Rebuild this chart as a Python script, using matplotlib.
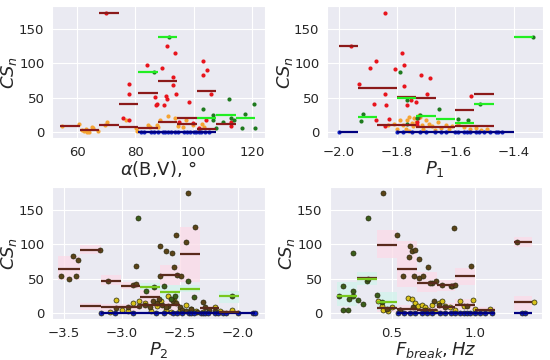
import matplotlib
matplotlib.use("Agg")
import matplotlib.pyplot as plt
import seaborn as sns
import numpy as np

sns.set_style("darkgrid")
plt.rcParams['font.family'] = ['DejaVu Sans']

# ---------------- Panel 1: alpha(B,V) ----------------
a_red_x = [70, 75.7, 77.7, 78.0, 78.0, 83.9, 86.8, 87.6, 87.0, 89.3, 89.8, 90.5, 90.8, 91.0,
           93.0, 93.0, 93.6, 93.9, 95.0, 98.4, 99.9, 101.8, 103.3, 104.7, 103.3, 105.9, 104.3,
           112.9, 113.0]
a_red_y = [173, 21, 69, 55, 17, 97.6, 51, 41, 39, 93, 39, 52, 47.6, 125,
           67.6, 79, 114, 55, 15, 43, 13, 6, 103, 90.5, 83, 55, 17,
           15, 8]
a_orange_x = [54.7, 60.8, 61.8, 63.0, 64.1, 65.0, 65.6, 63.3, 67.1, 69.6, 70.4, 76.8, 80.2,
              80.7, 85.0, 87.3, 88.5, 87.9, 91.3, 93.6, 97.3, 96.5, 102.8, 103.4, 102.0, 99.9,
              94.7, 84.4, 62.4]
a_orange_y = [9, 11.4, 3, 4.6, 0.5, 7.6, 5.7, 0, 1, 10, 14, 18, 5.7,
              2, 7.6, 10, 17, 7.6, 23.8, 20, 18, 7.6, 12, 7.6, 4.5, 10,
              9, 10, 1]
a_green_x = [91.7, 86.4, 103.3, 106.5, 106.8, 107.7, 112.2, 110.0, 112.9, 113.7, 116.5,
             117.6, 120.7, 121.2]
a_green_y = [138, 87, 33, 25, 17, 5.7, 47.6, 14, 20, 18, 5.7, 26, 40, 5.7]
a_blue_x = [81.8, 83.1, 85.4, 86.5, 87.9, 89.5, 90.2, 91.1, 92.2, 93.5, 94.5, 96.7, 97.9,
            98.8, 100.0, 100.9, 101.8, 102.7, 103.9, 105.2]
a_blue_y = [0] * 20
a_dr_lo = [67.6, 74.3, 81.0, 87.7, 94.4, 101.1, 107.8, 54.2, 60.9, 67.6, 74.3, 81.0, 87.7, 94.4, 101.1]
a_dr_hi = [74.3, 81.0, 87.7, 94.4, 101.1, 107.8, 114.5, 60.9, 67.6, 74.3, 81.0, 87.7, 94.4, 101.1, 107.8]
a_dr_mean = [173, 41, 57, 74, 21, 60, 12, 9, 3.5, 10, 7.5, 6, 15, 11, 5]
a_lime_lo = [81.0, 87.7, 101.1, 107.8, 114.5]
a_lime_hi = [87.7, 94.4, 107.8, 114.5, 121.2]
a_lime_mean = [87, 138, 20, 24, 20]
a_navy_lo = [81.0, 87.7, 94.4, 101.1]
a_navy_hi = [87.7, 94.4, 101.1, 107.8]
a_navy_mean = [0, 0, 0, 0]

# ---------------- Panel 2: P1 ----------------
p1_red_x = [-1.842, -1.781, -1.775, -1.808, -1.872, -1.891, -1.929, -1.718, -1.688, -1.777,
            -1.840, -1.697, -1.877, -1.838, -1.766, -1.752, -1.735, -1.826, -1.872, -1.842,
            -1.546, -1.731, -1.731, -1.729, -1.957]
p1_red_y = [173, 114, 97.6, 91, 103, 92.4, 69, 83, 78.6, 67,
            55, 55, 41, 39, 39, 47, 43, 19, 17, 8,
            52.3, 10, 15, 21, 124.8]
p1_orange_x = [-1.83, -1.81, -1.80, -1.79, -1.78, -1.77, -1.765, -1.76, -1.75, -1.745, -1.74,
               -1.735, -1.725, -1.72, -1.715, -1.71, -1.70, -1.69, -1.68, -1.67, -1.66, -1.65,
               -1.63, -1.62, -1.61, -1.59, -1.57, -1.55, -1.53, -1.51, -1.49, -1.76]
p1_orange_y = [10, 12, 5, 17, 10, 5, 18, 22, 13, 8, 20,
               14, 25, 22, 10, 5, 17, 12, 8, 3, 14, 6,
               10, 4, 9, 12, 7, 4, 6, 3, 5, 1]
p1_green_x = [-1.788, -1.916, -1.923, -1.766, -1.766, -1.657, -1.589, -1.556, -1.514, -1.334,
              -1.73, -1.72]
p1_green_y = [87.6, 26.7, 16, 47, 12, 33, 19, 17, 40.5, 138, 20, 25]
p1_blue_x = [-2.0, -1.80, -1.78, -1.75, -1.72, -1.70, -1.67, -1.65, -1.63, -1.60, -1.59,
             -1.57, -1.56, -1.55, -1.53, -1.52, -1.50, -1.48, -1.46, -1.452, -1.44]
p1_blue_y = [0] * 21
p1_dr_lo = [-2.0, -1.934, -1.8, -1.734, -1.6, -1.534, -1.867, -1.8, -1.734, -1.6]
p1_dr_hi = [-1.934, -1.8, -1.734, -1.667, -1.534, -1.467, -1.8, -1.734, -1.6, -1.467]
p1_dr_mean = [124.8, 64.3, 50.5, 48.6, 31.4, 55.2, 10.5, 9.5, 6.7, 8]
p1_lime_lo = [-1.934, -1.8, -1.734, -1.667, -1.6, -1.534, -1.4]
p1_lime_hi = [-1.867, -1.734, -1.667, -1.6, -1.534, -1.467, -1.334]
p1_lime_mean = [21.9, 49, 22.8, 19, 12.4, 40.5, 138]
p1_navy_lo = [-2.0, -1.8]
p1_navy_hi = [-1.934, -1.4]
p1_navy_mean = [0, 0]

# ---------------- Panel 3: P2 ----------------
p2_brown_x = [-3.52, -3.45, -3.39, -3.42, -3.38, -3.19, -3.12, -2.88, -2.90, -2.88, -2.67,
              -2.62, -2.57, -2.53, -2.45, -2.37, -2.43, -2.55, -2.67, -2.52, -2.49,
              -2.73, -2.70, -2.68, -2.65, -2.60, -2.56, -2.53, -2.50, -2.48, -2.45, -2.40,
              -2.35, -2.30, -2.28, -2.25, -2.20, -3.05, -2.95, -2.85, -2.80, -2.76, -2.62]
p2_brown_y = [54, 50, 54, 82, 77, 92, 47, 68, 40, 42, 97,
              90, 87, 113, 103, 124, 174, 67, 54, 55, 53,
              18, 15, 20, 12, 10, 17, 14, 8, 5, 3, 6,
              2, 16, 8, 5, 3, 7, 9, 10, 12, 8, 9]
p2_green_x = [-2.86, -2.79, -2.72, -2.64, -2.43, -2.54, -2.38, -2.58, -2.05]
p2_green_y = [138, 32, 38, 39, 46, 25, 23, 20, 25]
p2_yellow_x = [-3.05, -2.95, -2.90, -2.85, -2.80, -2.75, -2.70, -2.66, -2.60, -2.58, -2.55,
               -2.50, -2.45, -2.40, -2.36, -2.30, -2.20, -2.15, -2.05, -3.10, -3.00, -2.62]
p2_yellow_y = [19, 3, 14, 17, 15, 3, 10, 18, 24, 2, 19,
               4, 12, 6, 3, 2, 9, 3, 4, 2, 5, 5]
p2_blue_x = [-3.18, -3.056, -2.899, -2.704, -2.635, -2.56, -2.524, -2.48, -2.425, -2.40, -2.38,
             -2.32, -2.30, -2.28, -2.26, -2.20, -2.17, -2.13, -2.10, -1.995, -1.87, -1.853]
p2_blue_y = [0] * 22
p2_br_lo = [-3.55, -3.36, -3.18, -3.01, -2.84, -2.67, -2.50, -3.36, -3.18, -3.01, -2.84, -2.67, -2.33, -2.16]
p2_br_hi = [-3.36, -3.18, -3.01, -2.84, -2.67, -2.50, -2.33, -3.18, -3.01, -2.84, -2.67, -2.50, -2.16, -1.99]
p2_br_mean = [63.7, 91.9, 46.6, 39.4, 23.7, 54.7, 85, 10.4, 8, 8, 12, 11, 6.6, 2]
p2_br_band_lo = [48, 85, 40, 35, 15, 40, 45, 5, 3, 3, 6, 5, 3, 0]
p2_br_band_hi = [82, 98, 55, 45, 33, 70, 125, 15, 13, 13, 18, 17, 10, 5]
p2_gr_lo = [-2.84, -2.67, -2.50, -2.16]
p2_gr_hi = [-2.67, -2.50, -2.33, -1.99]
p2_gr_mean = [38, 30, 35, 25]
p2_gr_band_lo = [33, 20, 30, 15]
p2_gr_band_hi = [43, 40, 40, 32]
p2_navy_lo = [-3.18]
p2_navy_hi = [-1.85]
p2_navy_mean = [0]

# ---------------- Panel 4: F_break ----------------
fb_green_x = [0.21, 0.27, 0.36, 0.186, 0.21, 0.24, 0.244, 0.27, 0.27, 0.30, 0.326, 0.35,
              0.36, 0.414, 0.44]
fb_green_y = [39.4, 87, 138, 24, 5, 5, 20, 24, 32, 18.6, 13, 46.6, 50, 25.6, 16]
fb_brown_x = [0.45, 0.53, 0.61, 0.62, 0.64, 0.604, 0.666, 0.716, 0.57, 0.636, 0.666, 0.686,
              0.74, 0.766, 0.87, 0.974, 0.73, 0.80, 0.854, 0.86, 0.88, 0.75, 1.25,
              0.47, 0.55, 0.63, 0.70, 0.78, 0.82, 0.95]
fb_brown_y = [174, 113, 97.6, 89.5, 92, 81, 77.6, 67, 53.7, 53.7, 50.4, 53.7,
              42.8, 46.6, 123.7, 68, 43, 40.5, 39, 39, 41, 18, 103,
              6, 5, 8, 4, 12, 8, 10]
fb_yellow_x = [0.44, 0.45, 0.48, 0.50, 0.55, 0.60, 0.62, 0.64, 0.66, 0.68, 0.70, 0.72, 0.74,
               0.76, 0.78, 0.80, 0.82, 0.85, 0.88, 0.91, 0.93, 0.986, 1.0, 1.086, 1.35, 0.42]
fb_yellow_y = [10, 5, 3, 8, 4, 22, 20, 15, 10, 12, 8, 5, 12,
               3, 14, 17, 10, 8, 5, 17.6, 10, 19, 6, 5.7, 16.6, 17]
fb_blue_x = [0.54, 0.574, 0.61, 0.64, 0.68, 0.71, 0.74, 0.79, 0.82, 0.855, 0.88, 0.91, 0.93,
             0.95, 0.97, 1.0, 1.03, 1.06, 1.10, 1.28, 1.30]
fb_blue_y = [0] * 21
fb_br_lo = [0.29, 0.41, 0.53, 0.65, 0.77, 0.88, 1.23, 0.41, 0.53, 0.65, 0.77, 0.88, 1.0, 1.23]
fb_br_hi = [0.41, 0.53, 0.65, 0.77, 0.88, 1.0, 1.34, 0.53, 0.65, 0.77, 0.88, 1.0, 1.12, 1.34]
fb_br_mean = [50.4, 98, 63.7, 42.8, 40.5, 53.7, 103, 7, 6, 5, 8.5, 11.9, 4, 16.6]
fb_br_band_lo = [45, 80, 38, 30, 32, 40, 95, 2, 2, 1, 3, 5, 0, 5]
fb_br_band_hi = [55, 120, 105, 60, 48, 65, 110, 12, 12, 10, 15, 20, 8, 25]
fb_gr_lo = [0.17, 0.29, 0.41]
fb_gr_hi = [0.29, 0.41, 0.53]
fb_gr_mean = [25.2, 50, 16]
fb_gr_band_lo = [10, 40, 5]
fb_gr_band_hi = [45, 60, 30]
fb_navy_lo = [0.53, 1.23]
fb_navy_hi = [1.12, 1.34]
fb_navy_mean = [0, 0]

# ---------------- styles ----------------
RED = "#e8141c"
ORANGE = "#f5a433"
DGREEN = "#1e7a1e"
BLUE = "#1020c0"
DARKRED = "#8b1a1a"
LIME = "#22ee22"
NAVY = "#000080"
BROWN_PT = "#5b4318"
OLIVE_PT = "#3a5e1a"
YELLOW_PT = "#d8c21a"
BROWN_LN = "#5a2a1c"
YGREEN_LN = "#78c81e"
PINK = "#fcdbe8"
CYAN = "#d3f3ec"

fig = plt.figure(figsize=(5.5, 3.6), dpi=100)
axes = [fig.add_axes([0.0945, 0.6167, 0.3873, 0.3667]),
        fig.add_axes([0.5945, 0.6167, 0.3927, 0.3667]),
        fig.add_axes([0.0945, 0.1139, 0.3873, 0.3667]),
        fig.add_axes([0.6000, 0.1139, 0.3855, 0.3667])]

ms_top = 9
ms_bot = 13
lw = 1.6

def top_panel(ax, pts, dr, lime, navy):
    for (x, y, c) in pts:
        ax.scatter(x, y, s=ms_top, color=c, zorder=3, linewidths=0)
    ax.hlines(navy[2], navy[0], navy[1], colors=NAVY, lw=lw, zorder=4)
    ax.hlines(dr[2], dr[0], dr[1], colors=DARKRED, lw=lw, zorder=4)
    ax.hlines(lime[2], lime[0], lime[1], colors=LIME, lw=lw, zorder=4)

def bottom_panel(ax, pts, br, gr, navy):
    for lo, hi, yl, yh in zip(br[0], br[1], br[3], br[4]):
        ax.fill_between([lo, hi], [yl, yl], [yh, yh], color=PINK, alpha=0.75, lw=0, zorder=1)
    for lo, hi, yl, yh in zip(gr[0], gr[1], gr[3], gr[4]):
        ax.fill_between([lo, hi], [yl, yl], [yh, yh], color=CYAN, alpha=0.8, lw=0, zorder=1)
    for (x, y, c) in pts:
        ax.scatter(x, y, s=ms_bot, color=c, edgecolors="#2a2a10", linewidths=0.5, zorder=3)
    ax.hlines(navy[2], navy[0], navy[1], colors=NAVY, lw=lw, zorder=4)
    ax.hlines(br[2], br[0], br[1], colors=BROWN_LN, lw=lw, zorder=4)
    ax.hlines(gr[2], gr[0], gr[1], colors=YGREEN_LN, lw=lw, zorder=4)

top_panel(axes[0],
          [(a_orange_x, a_orange_y, ORANGE), (a_red_x, a_red_y, RED),
           (a_green_x, a_green_y, DGREEN), (a_blue_x, a_blue_y, BLUE)],
          (a_dr_lo, a_dr_hi, a_dr_mean), (a_lime_lo, a_lime_hi, a_lime_mean),
          (a_navy_lo, a_navy_hi, a_navy_mean))
top_panel(axes[1],
          [(p1_orange_x, p1_orange_y, ORANGE), (p1_red_x, p1_red_y, RED),
           (p1_green_x, p1_green_y, DGREEN), (p1_blue_x, p1_blue_y, BLUE)],
          (p1_dr_lo, p1_dr_hi, p1_dr_mean), (p1_lime_lo, p1_lime_hi, p1_lime_mean),
          (p1_navy_lo, p1_navy_hi, p1_navy_mean))
bottom_panel(axes[2],
             [(p2_yellow_x, p2_yellow_y, YELLOW_PT), (p2_brown_x, p2_brown_y, BROWN_PT),
              (p2_green_x, p2_green_y, OLIVE_PT), (p2_blue_x, p2_blue_y, BLUE)],
             (p2_br_lo, p2_br_hi, p2_br_mean, p2_br_band_lo, p2_br_band_hi),
             (p2_gr_lo, p2_gr_hi, p2_gr_mean, p2_gr_band_lo, p2_gr_band_hi),
             (p2_navy_lo, p2_navy_hi, p2_navy_mean))
bottom_panel(axes[3],
             [(fb_yellow_x, fb_yellow_y, YELLOW_PT), (fb_brown_x, fb_brown_y, BROWN_PT),
              (fb_green_x, fb_green_y, OLIVE_PT), (fb_blue_x, fb_blue_y, BLUE)],
             (fb_br_lo, fb_br_hi, fb_br_mean, fb_br_band_lo, fb_br_band_hi),
             (fb_gr_lo, fb_gr_hi, fb_gr_mean, fb_gr_band_lo, fb_gr_band_hi),
             (fb_navy_lo, fb_navy_hi, fb_navy_mean))

xlims = [(51.4, 124.5), (-2.04, -1.299), (-3.60, -1.767), (0.13, 1.40)]
xticks = [[60, 80, 100, 120], [-2.0, -1.8, -1.6, -1.4], [-3.5, -3.0, -2.5, -2.0], [0.5, 1.0]]
xlabels = [r"$\alpha$(B,V), °", r"$P_1$", r"$P_2$", r"$F_{break}, Hz$"]
ylab_x = [-0.155, -0.150, -0.155, -0.155]
for ax, xl, xt, lab, lx in zip(axes, xlims, xticks, xlabels, ylab_x):
    ax.set_xlim(*xl)
    ax.set_ylim(-8.7, 182.7)
    ax.set_xticks(xt)
    ax.set_yticks([0, 50, 100, 150])
    ax.tick_params(labelsize=9.5, pad=2)
    ax.set_xlabel(lab, fontsize=13, labelpad=0)
    ax.set_ylabel(r"$CS_n$", fontsize=13)
    ax.yaxis.set_label_coords(lx, 0.5)

fig.savefig("out.png", dpi=100)
